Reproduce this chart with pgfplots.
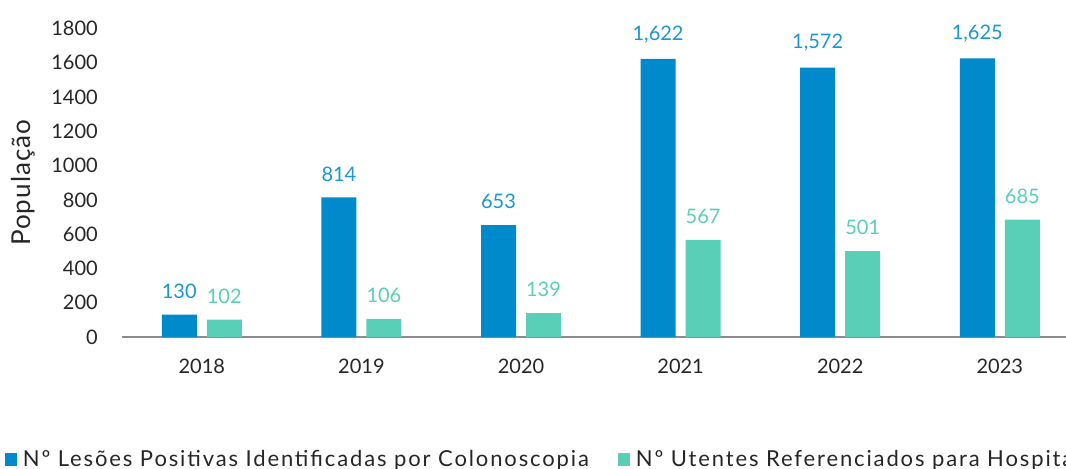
\documentclass[border=0pt]{standalone}
\usepackage{fontspec}
\setmainfont{Lato}
\newfontfamily\legfont{Lato}[LetterSpace=8.5]
\newfontfamily\labfont{Lato}[LetterSpace=4]
\usepackage{pgfplots}
\pgfplotsset{compat=1.18}

\definecolor{barblue}{HTML}{0089CB}
\definecolor{barteal}{HTML}{5ACFB8}
\definecolor{lblblue}{HTML}{1A96D4}
\definecolor{axisgray}{HTML}{8C8C8C}
\definecolor{txt}{HTML}{262626}

\begin{document}
\begin{tikzpicture}
\begin{axis}[
  name=ax,
  scale only axis,
  width=718.2pt, height=231.4pt,
  ybar=7.5pt, bar width=26.25pt,
  xmin=-0.5, xmax=5.5, ymin=0, ymax=1800,
  xtick=data,
  xticklabels={2018,2019,2020,2021,2022,2023},
  ytick={0,200,...,1800},
  major tick length=0pt,
  axis x line*=bottom, axis y line*=left,
  x axis line style={draw=axisgray, line width=1.5pt},
  y axis line style={draw=none},
  /pgf/number format/assume math mode=true,
  yticklabel style={/pgf/number format/1000 sep={}, inner sep=0pt, anchor=east, xshift=-18pt},
  xticklabel style={inner sep=0pt, anchor=north, yshift=-16.5pt},
  ticklabel style={font=\fontsize{15}{18}\selectfont, text=txt},
  ylabel={População},
  ylabel style={at={(axis description cs:-0.1034,0.5)}, anchor=center, font=\labfont\fontsize{19.5}{22}\selectfont, text=txt},
  clip=false,
  nodes near coords,
  nodes near coords style={font=\fontsize{15}{18}\selectfont, inner sep=0pt, anchor=south, yshift=12pt, /pgf/number format/1000 sep={,}},
  legend image code/.code={\fill[#1] (0pt,-5pt) rectangle (8.7pt,4.75pt);},
  legend style={draw=none, fill=none, inner sep=0pt, legend columns=2,
    at={(axis description cs:-0.1222,-0.3955)}, anchor=west,
    nodes={inner sep=0pt},
    font=\legfont\fontsize{16.5}{19}\selectfont, text=txt,
    /tikz/every odd column/.append style={column sep=4.5pt},
    /tikz/every even column/.append style={column sep=22pt}},
  legend cell align=left,
]
\addplot[fill=barblue, draw=none, every node near coord/.append style={text=lblblue}]
  coordinates {(0,130) (1,814) (2,653) (3,1622) (4,1572) (5,1625)};
\addplot[fill=barteal, draw=none, every node near coord/.append style={text=barteal}]
  coordinates {(0,102) (1,106) (2,139) (3,567) (4,501) (5,685)};
\legend{Nº Lesões Positivas Identificadas por Colonoscopia, Nº Utentes Referenciados para Hospital}
\end{axis}
\pgfresetboundingbox
\path[use as bounding box] ([shift={(-91.5pt,-98.25pt)}]ax.south west) rectangle ([shift={(708pt,252.75pt)}]ax.south west);
\end{tikzpicture}
\end{document}
